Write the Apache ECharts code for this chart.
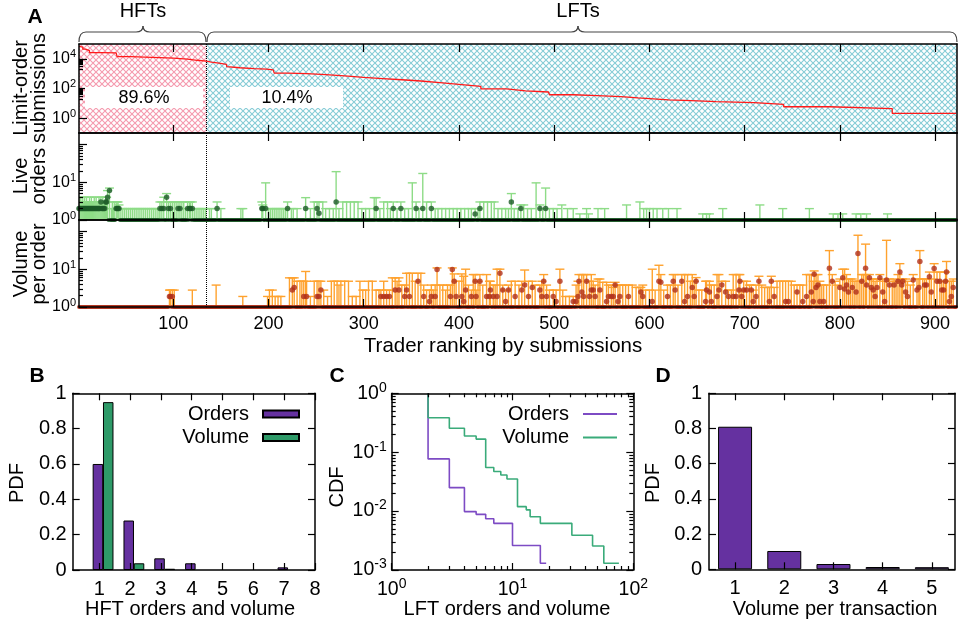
<!DOCTYPE html>
<html><head><meta charset="utf-8">
<script src="https://cdn.jsdelivr.net/npm/echarts@6/dist/echarts.min.js"></script>
<style>html,body{margin:0;padding:0;background:#fff}#c{width:959px;height:624px}</style>
</head><body><div id="c"></div><script>
// ---------------- DATA ----------------
const rankTicks = [100,200,300,400,500,600,700,800,900];
const nTraders = 922;
const hftCount = 135;
const shareLabels = ['89.6%','10.4%'];
// Panel A top: limit-order submissions by rank (step line)
const subRank  = [1,3,5,8,12,25,40,41,55,70,86,100,115,125,135,140,148,156,157,170,185,198,205,206,220,240,260,280,300,320,340,360,380,400,423,450,470,494,495,520,545,570,588,589,620,644,670,710,741,789,855,922];
const subValue = [70000,62000,45000,36000,26000,25500,24500,14000,13000,12000,11000,9500,8000,7000,6000,5200,4200,3000,2500,2200,2000,1800,1750,1080,1000,850,700,560,470,390,320,250,190,140,95,70,58,45,38,33,28,23,19,17,15,13,11,8.5,5.9,4.4,2.1,2.1];
// Panel A middle: live orders [rank, mean, upper] (all other traders: mean 1)
const liveStats = [[1,2,3],[2,2,4],[3,2,4],[4,2,3],[5,2,4],[6,2,3],[7,2,4],[8,2,3],[9,2,4],[10,2,3],[11,2,3],[12,2,4],[13,2,3],[14,2,4],[15,2,3],[16,2,3],[17,2,4],[18,2,3],[19,2,4],[20,2,3],[21,2,3],[22,2,4],[23,2,3],[24,3,4],[25,2,3],[26,2,4],[27,2,3],[28,2,3],[29,3,4],[30,3,4],[31,4,6],[33,6,7],[35,1,2],[36,1,3],[37,1,2],[38,1,3],[40,2,3],[41,2,3],[42,2,3],[43,2,2.5],[45,1,2],[47,1,2],[49,1,2],[51,1,2],[53,1,2],[55,1,2],[57,1,2],[59,1,2],[61,1,2],[63,1,2],[65,1,2],[67,1,2],[69,1,2],[71,1,2],[73,1,2],[75,1,2],[77,1,2],[79,1,2],[81,1,2],[83,1,2],[85,1,2],[86,2,3],[88,2,3],[90,2,4],[93,4,5],[95,2,3],[97,2,3],[99,1,3],[101,1,3],[103,1,3],[105,2,3],[107,2,3],[109,1,3],[111,1,3],[113,1,2],[115,2,3],[117,2,3],[118,2,3],[120,2,3],[122,1,2],[124,1,2],[126,1,2],[128,1,2],[130,1,2],[132,1,2],[134,1,2],[138,1,2],[140,1,2],[146,2,3],[150,1,2],[171,1,2],[173,1,2],[193,2,3],[194,2,2.5],[197,2,9.6],[200,1,2],[202,1,2],[204,1,2],[206,1,2],[208,1,2],[210,1,2],[212,1,2],[214,1,2],[216,1,2],[218,1,2],[220,2,3],[224,1,2],[226,1,2],[230,1,2],[239,2,3.9],[244,1,2],[248,1,3],[251,2,3],[253,1.5,3],[257,1,3],[260,1,2],[264,1,2],[268,1,2],[271,3,19],[274,1,2],[278,1,3],[282,1,3],[286,1,3],[290,1,3],[294,1,3],[298,1,2],[302,1,2],[306,1,2],[311,1,3.9],[313,2,3.9],[317,1,2],[321,1,3],[325,1,3],[328,1,2],[331,2,3],[335,1,2],[339,2,3],[343,1,2],[347,1,2],[351,1,9.6],[355,2,3],[358,1,2],[362,2,17],[366,1,3],[371,2,3],[375,1,2],[378,1,2],[382,1,2],[386,1,2],[390,1,2],[394,1,2],[398,1,2],[402,1,2],[406,1,2],[410,1,2],[413,1,2],[417,1.45,2],[420,1,2],[422,2,3],[426,1,3],[430,1,3],[434,1,3],[437,1,3],[441,1,2],[445,1,2],[449,1,2],[452,1,2],[455,3,5],[458,1,2],[462,1,2],[465,2,2.5],[468,1,2.5],[472,1,2],[476,1,2],[481,1,9.6],[485,2,2.5],[488,1,2],[491,2,7],[495,1,2],[499,1,2],[503,1,2],[508,1,2.5],[514,1,2],[520,1,2],[527,1,1.45],[534,1,2],[536,1,1.45],[546,1,2],[553,1,2],[576,1,2.5],[590,1,3],[594,1,2],[597,1,2],[600,1,2],[604,1,2],[608,1,2],[614,1,2],[620,1,2],[629,1,2],[656,1,1.45],[660,1,1.45],[663,1,1.45],[677,1,2],[716,1,2.5],[740,1,2],[768,1,2],[793,1,1.45],[798,1,1.45],[803,1,1.45],[817,1,1.45],[822,1,1.45],[828,1,1.45],[850,1,1.45]];
// Panel A bottom: volume per order [rank, mean, upper] (all other traders: mean 1)
const volStats = [[96,1.9,2.8],[97,1.9,2.8],[99,1.9,2.8],[101,1,2.8],[120,1,2.8],[145,1,3.8],[173,1,1.9],[199,1,1.9],[201,1,2.8],[204,1,2.8],[207,1,1.9],[210,1,1.9],[213,1,1.9],[222,1,5.9],[225,2.8,5.9],[227,3.3,5.9],[230,1,4.8],[233,1,4.8],[235,1,4.8],[237,1.9,4.8],[239,1,8.7],[240,1.9,4.8],[244,1,1.9],[248,1,4.8],[251,1.9,4.8],[253,1.9,4.8],[255,2.8,4.8],[258,1,2.8],[262,1,1.9],[266,1,4.8],[269,1,4.8],[272,1,4.8],[274,1,3.8],[276,1,4.8],[280,1,4.8],[284,1,4.8],[288,1,1.9],[292,1,1.9],[296,1,4.8],[299,1,2.8],[302,1,2.8],[305,1,4.8],[309,1,4.8],[313,1,2.8],[316,1,2.8],[318,1.9,2.8],[321,1.9,4.8],[324,1.9,2.8],[327,1.9,2.8],[330,1,5.9],[333,2.8,5.9],[335,1,4.8],[337,2.8,5.9],[340,1,3.8],[343,1.9,3.8],[345,2.8,7.8],[348,1.9,7.8],[351,1,7.8],[354,1,4.8],[357,4.8,7.8],[360,1,7.8],[363,1.9,3.8],[366,1,2.8],[369,1.4,2.8],[371,1.9,3.8],[373,1,2.8],[375,1.9,3.8],[377,9.8,10.8],[380,1,3.8],[383,1,3.8],[386,1,2.8],[388,1,3.8],[391,1.9,3.8],[393,9.8,10.8],[395,4.8,7.5],[397,1.9,4.8],[400,1,4.8],[403,1.9,7.5],[405,1.4,6.5],[407,2.8,10],[410,1,3.8],[413,1.9,2.8],[415,1,7.2],[417,4.8,7.2],[418,1.9,2.8],[420,1,4.8],[422,4.8,7.2],[425,1,3.8],[429,1.9,7.2],[432,1.9,4.8],[433,2.8,4.8],[436,1.9,3.8],[438,1,3.8],[440,1.9,10],[443,7.8,10],[446,2.8,3.8],[449,1.4,2.8],[452,2.8,3.8],[455,1,4.8],[459,1.9,4.8],[463,1,3.8],[466,2.8,4.8],[469,3.8,9.5],[473,1.9,4.8],[477,3.3,4.8],[480,1,3.8],[485,2.8,3.8],[487,1.9,4.8],[489,4.8,7.2],[492,1.9,3.8],[495,1,2.8],[499,1.9,2.8],[502,1.4,2.8],[506,4.8,10],[509,1,2.8],[512,1,1.9],[516,1,1.9],[520,1.4,1.9],[523,1.4,3.8],[525,1.9,4.8],[526,4.8,7.2],[529,2.5,7.2],[531,1.9,7.2],[534,4.8,7.2],[537,1.9,4.8],[539,2.8,7.2],[541,2.8,4.8],[543,1.9,3.8],[546,1,5.5],[548,2.8,5.5],[551,1,4.5],[555,1.4,4.5],[557,1.9,3.8],[560,1.9,3.8],[562,1.9,3.3],[564,3.8,4.5],[567,1.4,3.8],[569,1.9,3.8],[572,1,3.8],[575,1,3.8],[578,1.9,3.8],[582,1,3.8],[586,1,3.3],[589,1,3.3],[591,2.5,3.3],[593,1.9,3.8],[596,1,2.8],[600,1,2.8],[603,1.4,10],[606,1,2.8],[610,4.8,12.7],[612,4.5,7.2],[615,1,2.8],[619,1.9,3.8],[622,1,3.8],[625,4.8,7.2],[627,2.8,7.2],[630,1,3.8],[634,4.8,7.2],[637,1.4,7.2],[640,1.9,7.2],[643,1,4.8],[645,3.3,7.2],[647,1.9,4.8],[649,4.8,6],[652,1,2.8],[655,1,2.8],[659,1.4,4.8],[660,2.8,4.8],[663,2.5,4.8],[665,1.4,3.8],[668,1,3.8],[671,1.9,7.2],[673,2.8,7.2],[676,3.8,4.8],[680,2.5,4.8],[683,1.9,2.8],[686,1,2.8],[688,1.9,7.2],[691,1.9,7.2],[694,2.8,7.2],[695,4.8,7.2],[697,1.9,2.8],[699,2.8,4.8],[702,2.8,4.8],[705,1,3.8],[707,2.8,3.8],[709,1.4,2.8],[712,1.9,3.8],[715,4.8,6.5],[718,1,3.8],[721,1,3.3],[724,1,3.3],[726,1.4,3.3],[728,4.8,6.5],[731,1.9,3.3],[734,1,4.8],[737,1,4.8],[740,1,4.8],[743,1.4,4.8],[746,1.4,4.8],[749,1,4.8],[752,1,3.8],[755,2.5,3.8],[758,1,3.8],[761,1.4,3.8],[765,1.9,7.2],[768,1,7.2],[770,2.5,7.2],[772,1.4,4.8],[773,7.3,9],[775,3.3,7.2],[777,3.8,7.2],[779,1.4,4.8],[781,1,3.8],[783,1.4,3.8],[786,1,3.8],[789,10.6,31],[792,4.8,7.2],[795,1,4.8],[797,1,3.8],[800,3.3,5.5],[803,5.9,10],[805,3,10],[807,3.8,7.2],[809,2.5,5.5],[811,1,5.5],[813,3.3,5.5],[815,1,4.8],[817,2.5,4.8],[819,26,79],[821,1,4.8],[823,4.8,7.2],[825,1,7.2],[827,10.6,46],[828,3.8,7.2],[831,5.9,7.2],[833,3.3,5.5],[835,2.8,5.5],[837,1.9,4.8],[839,3.3,5.5],[842,5.9,7.2],[845,2.5,5.5],[847,1.4,4.8],[849,5.2,58],[852,3.8,5.5],[855,1,4.8],[857,3.8,5.5],[859,1,4.8],[861,4.8,7.2],[863,8.4,14],[865,3.8,5.5],[866,4.8,5.5],[869,2.5,5.5],[871,1.9,4.8],[874,1,3.8],[877,5.2,7.2],[881,2.8,5.5],[883,3.3,5.5],[884,16,31],[887,1,5.5],[889,3.8,5.5],[891,3.8,5.5],[894,6.3,8.4],[896,2.5,5.5],[899,10.5,14],[902,4.8,8.4],[905,4.8,8.4],[907,2.8,4.8],[909,2.8,4.8],[911,4.8,8.4],[912,8.4,16],[915,1.4,4.8],[917,1.9,4.8],[919,3.3,5.5]];
// Panel B
const hftBins   = [1,2,3,4,5,6,7,8];
const hftOrders = [0.6,0.28,0.066,0.038,0,0,0.015,0];
const hftVolume = [0.95,0.038,0.007,0,0,0,0,0];
// Panel C (CDF step lines)
const lftOrdX   = [2,2,3,4,5,6,7,10,17,19];
const lftOrdCdf = [1,0.077,0.025,0.0098,0.0088,0.0074,0.0062,0.0026,0.0013,0.0013];
const lftVolX   = [2,2,3,4,5,6,7,8,9,11,13,14,17,31,46,57,76];
const lftVolCdf = [1,0.385,0.255,0.188,0.167,0.055,0.047,0.041,0.035,0.0119,0.0105,0.008,0.0062,0.0039,0.00255,0.0013,0.0013];
// Panel D
const txBins = [1,2,3,4,5];
const txPdf  = [0.81,0.104,0.03,0.013,0.012];

// ---------------- STYLE ----------------
const FONT = '"Liberation Sans", Arial, Helvetica, sans-serif';
const L10 = Math.log10;
const dec = n => [2,3,4,5,6,7,8,9].map(k => n + L10(k));
const C_RED='#ff1a1a', C_LG='#8edc87', C_DG='#1c5a27', C_OR='#ffa22e', C_DR='#b0301a',
      C_PUR='#6531a0', C_GRN='#2e9a68', C_PURL='#7d4bc4', C_GRNL='#3aab7a';
function hatch(col){
  const c=document.createElement('canvas'); c.width=6; c.height=6;
  const g=c.getContext('2d'); g.fillStyle='#fff'; g.fillRect(0,0,6,6);
  g.strokeStyle=col; g.lineWidth=1.1; g.beginPath();
  g.moveTo(-1,-1); g.lineTo(7,7); g.moveTo(7,-1); g.lineTo(-1,7); g.stroke();
  return {image:c, repeat:'repeat'};
}
const xAxis=[], yAxis=[];
function ax(list,o){ list.push(Object.assign({type:'value', axisLine:{show:false,onZero:false}, splitLine:{show:false}, axisTick:{show:false}, axisLabel:{show:false}, axisPointer:{show:false}, silent:true, z:10}, o)); return list.length-1; }
function tk(vals,len){ return {show:true, inside:true, length:len, customValues:vals, lineStyle:{color:'#000', width:1.2}}; }
const BORDER={show:true,onZero:false,lineStyle:{color:'#000',width:1.5}};
function lbl(vals, size, margin, fmt, rich){ const o={show:true, customValues:vals, color:'#000', fontFamily:FONT, fontSize:size, margin:margin}; if(fmt) o.formatter=fmt; if(rich) o.rich=rich; return o; }
const supFmt = v => '{b|10}{s|' + Math.round(v) + '}';
const rich = (b,s,p) => ({b:{fontSize:b,fontFamily:FONT,color:'#000'}, s:{fontSize:s,fontFamily:FONT,color:'#000',padding:[0,0,p,0]}});
const fmt1 = v => String(Math.round(v*10)/10);

const grid = [
 {left:79, top:44, width:878, height:89},
 {left:79, top:133, width:878, height:87},
 {left:79, top:220, width:878, height:87},
 {left:72.7, top:393.3, width:242.3, height:176.7},
 {left:391.7, top:393.3, width:241.6, height:176.7},
 {left:709, top:393.3, width:246, height:176}
].map(g => Object.assign({show:false, containLabel:false, outerBoundsMode:'none'}, g));

// Panel A axes
const AX=[], AY=[];
for (let g=0; g<3; g++){
  AX[g] = ax(xAxis,{gridIndex:g, position:'bottom', min:1, max:923, axisLine:BORDER, axisTick:tk(rankTicks,8),
          axisLabel: g===2 ? lbl(rankTicks,18,8) : {show:false}});
  ax(xAxis,{gridIndex:g, position:'top', min:1, max:923, axisLine:BORDER, axisTick:tk(rankTicks,8)});
  const yr = g===0 ? [-1,5] : [0, L10(200)];
  const maj = g===0 ? [0,2,4] : [0,1,2];
  const lab = g===0 ? [0,2,4] : [0,1];
  const mnr = g===0 ? dec(3).concat(dec(1)) : dec(0).concat(dec(1));
  AY[g] = ax(yAxis,{gridIndex:g, position:'left', min:yr[0], max:yr[1], axisLine:BORDER, axisTick:tk(maj,8),
          axisLabel: lbl(lab,15,3,supFmt,rich(16,11,9))});
  ax(yAxis,{gridIndex:g, position:'left', min:yr[0], max:yr[1], axisTick:tk(mnr,4)});
  ax(yAxis,{gridIndex:g, position:'right', min:yr[0], max:yr[1], axisLine:BORDER});
}
// Panel B axes
const pdfTicks=[0,0.2,0.4,0.6,0.8,1];
const BX = ax(xAxis,{gridIndex:3, position:'bottom', min:0.137, max:8, axisLine:BORDER, axisTick:tk(hftBins,7), axisLabel:lbl(hftBins,20,9)});
ax(xAxis,{gridIndex:3, position:'top', min:0.137, max:8, axisLine:BORDER, axisTick:tk(hftBins,7)});
const BY = ax(yAxis,{gridIndex:3, position:'left', min:0, max:1, axisLine:BORDER, axisTick:tk(pdfTicks,7), axisLabel:lbl(pdfTicks,20,6,fmt1)});
ax(yAxis,{gridIndex:3, position:'right', min:0, max:1, axisLine:BORDER, axisTick:tk(pdfTicks,7)});
// Panel C axes (log10 space)
const cxMaj=[0,1,2], cxMin=dec(0).concat(dec(1));
const cyMaj=[-3,-2,-1,0], cyMin=dec(-3).concat(dec(-2)).concat(dec(-1));
const CX = ax(xAxis,{gridIndex:4, position:'bottom', min:0, max:2, axisLine:BORDER, axisTick:tk(cxMaj,7), axisLabel:lbl(cxMaj,19,7,supFmt,rich(19.5,14,11))});
ax(xAxis,{gridIndex:4, position:'bottom', min:0, max:2, axisTick:tk(cxMin,4)});
ax(xAxis,{gridIndex:4, position:'top', min:0, max:2, axisLine:BORDER, axisTick:tk(cxMaj,7)});
ax(xAxis,{gridIndex:4, position:'top', min:0, max:2, axisTick:tk(cxMin,4)});
const CY = ax(yAxis,{gridIndex:4, position:'left', min:-3, max:0, axisLine:BORDER, axisTick:tk(cyMaj,7), axisLabel:lbl(cyMaj,19,5,supFmt,rich(19.5,14,11))});
ax(yAxis,{gridIndex:4, position:'left', min:-3, max:0, axisTick:tk(cyMin,4)});
ax(yAxis,{gridIndex:4, position:'right', min:-3, max:0, axisLine:BORDER, axisTick:tk(cyMaj,7)});
ax(yAxis,{gridIndex:4, position:'right', min:-3, max:0, axisTick:tk(cyMin,4)});
// Panel D axes
const DX = ax(xAxis,{gridIndex:5, position:'bottom', min:0.47, max:5.47, axisLine:BORDER, axisTick:tk(txBins,7), axisLabel:lbl(txBins,20,9)});
ax(xAxis,{gridIndex:5, position:'top', min:0.47, max:5.47, axisLine:BORDER, axisTick:tk(txBins,7)});
const DY = ax(yAxis,{gridIndex:5, position:'left', min:0, max:1, axisLine:BORDER, axisTick:tk(pdfTicks,7), axisLabel:lbl(pdfTicks,20,7,fmt1)});
ax(yAxis,{gridIndex:5, position:'right', min:0, max:1, axisLine:BORDER, axisTick:tk(pdfTicks,7)});

// ---------------- SERIES ----------------
const sepLine = () => ({silent:true, symbol:['none','none'], label:{show:false}, lineStyle:{type:'dotted', color:'#000', width:1}, data:[{xAxis:hftCount}], animation:false});
function errBars(xi, yi, stats, color){
  return {type:'custom', xAxisIndex:xi, yAxisIndex:yi, silent:true, z:3, clip:true,
    data: stats.filter(s => s[2] > 1).map(s => [s[0], 0, L10(s[2])]),
    encode:{x:0, y:[1,2]},
    renderItem:(params, api) => {
      const p0 = api.coord([api.value(0), api.value(1)]);
      const p1 = api.coord([api.value(0), api.value(2)]);
      const st = {stroke:color, lineWidth:1.4};
      return {type:'group', children:[
        {type:'line', shape:{x1:p0[0], y1:p0[1], x2:p1[0], y2:p1[1]}, style:st},
        {type:'line', shape:{x1:p1[0]-4.5, y1:p1[1], x2:p1[0]+4.5, y2:p1[1]}, style:st}
      ]};
    }};
}
function meanDots(xi, yi, stats, color){
  const m = {}; stats.forEach(s => { m[s[0]] = s[1]; });
  const pts = [];
  for (let r=1; r<=nTraders; r++) pts.push([r, L10(m[r] || 1)]);
  return {type:'scatter', xAxisIndex:xi, yAxisIndex:yi, silent:true, z:4, data:pts,
    symbol:'circle', symbolSize: v => v[1] > 0.01 ? 5.5 : 4, itemStyle:{color:color}, markLine: sepLine()};
}
const series = [
  {type:'line', xAxisIndex:AX[0], yAxisIndex:AY[0], step:'end', symbol:'none', silent:true, z:5,
   data: subRank.map((r,i) => [r, L10(subValue[i])]), lineStyle:{color:C_RED, width:1.3},
   markArea:{silent:true, data:[[{xAxis:1, itemStyle:{color:hatch('#f59aae')}}, {xAxis:hftCount}],
                                [{xAxis:hftCount, itemStyle:{color:hatch('#86ccd6')}}, {xAxis:923}]]},
   markLine: sepLine()},
  errBars(AX[1], AY[1], liveStats, C_LG),
  meanDots(AX[1], AY[1], liveStats, C_DG),
  errBars(AX[2], AY[2], volStats, C_OR),
  meanDots(AX[2], AY[2], volStats, C_DR),
  {type:'bar', name:'Orders', xAxisIndex:BX, yAxisIndex:BY, barWidth:10.5, barGap:'-100%', silent:true,
   itemStyle:{color:C_PUR, borderColor:'#000', borderWidth:1},
   data: hftBins.map((b,i) => [b - 0.045, hftOrders[i]]).filter(d => d[1] > 0)},
  {type:'bar', name:'Volume', xAxisIndex:BX, yAxisIndex:BY, barWidth:10.5, barGap:'-100%', silent:true,
   itemStyle:{color:C_GRN, borderColor:'#000', borderWidth:1},
   data: hftBins.map((b,i) => [b + 0.29, hftVolume[i]]).filter(d => d[1] > 0)},
  {type:'line', name:'LFT Orders', xAxisIndex:CX, yAxisIndex:CY, step:'end', symbol:'none', showSymbol:false, silent:true,
   lineStyle:{color:C_PURL, width:1.6}, itemStyle:{color:C_PURL},
   data: lftOrdX.map((x,i) => [L10(x), L10(lftOrdCdf[i])])},
  {type:'line', name:'LFT Volume', xAxisIndex:CX, yAxisIndex:CY, step:'end', symbol:'none', showSymbol:false, silent:true,
   lineStyle:{color:C_GRNL, width:1.6}, itemStyle:{color:C_GRNL},
   data: lftVolX.map((x,i) => [L10(x), L10(lftVolCdf[i])])},
  {type:'bar', name:'tx', xAxisIndex:DX, yAxisIndex:DY, barWidth:34, silent:true,
   itemStyle:{color:C_PUR, borderColor:'#000', borderWidth:1},
   data: txBins.map((b,i) => [b, txPdf[i]])}
];

// ---------------- ANNOTATIONS ----------------
function T(text, x, y, size, style, el){
  return Object.assign({type:'text', x:x, y:y, z:100, silent:true,
    style:Object.assign({text:text, fontSize:size, fontFamily:FONT, fill:'#000', align:'center', verticalAlign:'middle', textAlign:'center', textVerticalAlign:'middle'}, style||{})}, el||{});
}
const ROT = {rotation:Math.PI/2};
const braceStyle = {stroke:'#444', fill:null, lineWidth:1.2};
function brace(L, R, M, yb, yh, yp){
  const c = (x1,y1,x2,y2,cx,cy) => ({type:'bezierCurve', z:100, silent:true, shape:{x1,y1,x2,y2,cpx1:cx,cpy1:cy}, style:braceStyle});
  const l = (x1,y1,x2,y2) => ({type:'line', z:100, silent:true, shape:{x1,y1,x2,y2}, style:braceStyle});
  return [c(L,yb,L+7,yh,L,yh), l(L+7,yh,M-7,yh), c(M-7,yh,M,yp,M,yh), c(M,yp,M+7,yh,M,yh), l(M+7,yh,R-7,yh), c(R-7,yh,R,yb,R,yh)];
}
const graphic = [
  T('A', 35, 17, 21, {fontWeight:'bold'}),
  T('HFTs', 143, 11, 20), T('LFTs', 578, 11, 20),
  ...brace(79, 206, 143, 42, 32, 26),
  ...brace(207, 957, 578, 42, 32, 26),
  T('Limit-order\nsubmissions', 30, 88, 20, {lineHeight:18}, ROT),
  T('Live\norders', 30, 176, 20, {lineHeight:18}, ROT),
  T('Volume\nper order', 30, 264, 20, {lineHeight:18}, ROT),
  {type:'rect', z:99, silent:true, shape:{x:85, y:87, width:118, height:21}, style:{fill:'#fff'}},
  {type:'rect', z:99, silent:true, shape:{x:230, y:87, width:113, height:21}, style:{fill:'#fff'}},
  T(shareLabels[0], 144, 98, 18), T(shareLabels[1], 287, 98, 18),
  T('Trader ranking by submissions', 503, 346, 20.5),
  T('B', 37, 376, 21, {fontWeight:'bold'}), T('C', 337, 376, 21, {fontWeight:'bold'}), T('D', 663, 376, 21, {fontWeight:'bold'}),
  T('PDF', 17, 483, 20, null, ROT), T('CDF', 337, 487, 20, null, ROT), T('PDF', 653, 483, 20, null, ROT),
  T('HFT orders and volume', 190, 609, 20), T('LFT orders and volume', 507, 609, 20), T('Volume per transaction', 835, 609, 20)
];

const legendBase = {orient:'vertical', align:'right', padding:0, itemGap:3.5, selectedMode:false,
  textStyle:{fontSize:20, fontFamily:FONT, color:'#000', padding:[0,9,0,0]}};
const legend = [
  Object.assign({}, legendBase, {right:959-300, top:404, itemWidth:36, itemHeight:7, icon:'rect', data:['Orders','Volume']}),
  Object.assign({}, legendBase, {right:959-617, top:404, itemWidth:34, itemHeight:1.8, icon:'rect', data:['LFT Orders','LFT Volume'], formatter: n => n.replace('LFT ','')})
];

const chart = echarts.init(document.getElementById('c'), null, {renderer:'canvas'});
chart.setOption({animation:false, backgroundColor:'#fff', textStyle:{fontFamily:FONT},
  grid, xAxis, yAxis, series, legend, graphic});
</script></body></html>
